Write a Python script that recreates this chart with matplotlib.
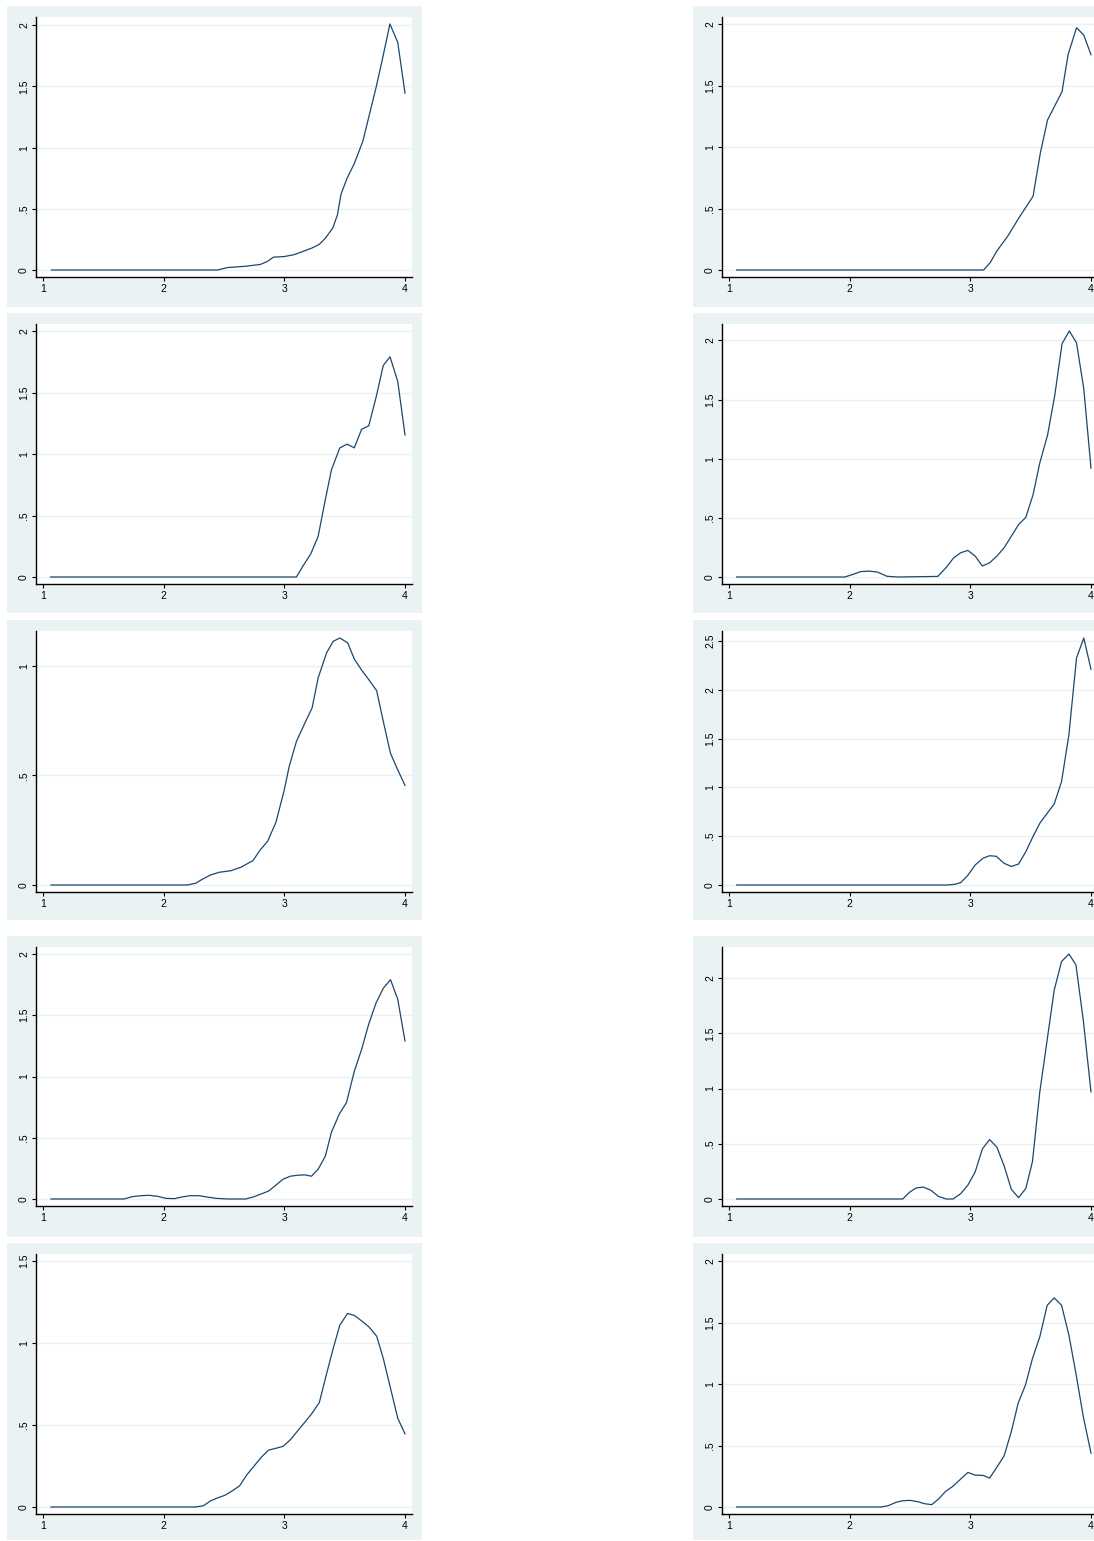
import matplotlib
matplotlib.use('Agg')
import matplotlib.pyplot as plt
from matplotlib.patches import Rectangle

plt.rcParams['font.family'] = ['Liberation Sans', 'DejaVu Sans']

# Datos (10 densidades, 5 filas x 2 columnas)

# fila 1, izquierda
x1 = [1.07, 2.445, 2.53, 2.67, 2.80, 2.86, 2.91, 3.0, 3.08, 3.15, 3.23, 3.29,
      3.34, 3.40, 3.44, 3.47, 3.52, 3.58, 3.65, 3.71, 3.76, 3.81, 3.875, 3.94, 4.0]
y1 = [0, 0, 0.02, 0.03, 0.045, 0.07, 0.105, 0.11, 0.125, 0.15, 0.18, 0.21,
      0.26, 0.34, 0.45, 0.62, 0.75, 0.87, 1.05, 1.29, 1.49, 1.71, 2.01, 1.86, 1.445]

# fila 1, derecha
x2 = [1.064, 3.11, 3.165, 3.22, 3.31, 3.40, 3.52, 3.58, 3.64, 3.76, 3.81, 3.88, 3.94, 4.0]
y2 = [0, 0, 0.06, 0.155, 0.275, 0.42, 0.60, 0.95, 1.22, 1.45, 1.75, 1.97, 1.91, 1.75]

# fila 2, izquierda
x3 = [1.064, 3.10, 3.155, 3.22, 3.28, 3.34, 3.39, 3.46, 3.52, 3.58, 3.64, 3.70,
      3.76, 3.82, 3.876, 3.94, 4.0]
y3 = [0, 0, 0.09, 0.19, 0.33, 0.63, 0.87, 1.05, 1.08, 1.05, 1.20, 1.23,
      1.46, 1.72, 1.79, 1.59, 1.155]

# fila 2, derecha
x4 = [1.064, 1.96, 2.02, 2.09, 2.16, 2.23, 2.31, 2.40, 2.73, 2.80, 2.86, 2.92,
      2.98, 3.04, 3.10, 3.16, 3.22, 3.28, 3.34, 3.40, 3.46, 3.52, 3.575, 3.64,
      3.70, 3.76, 3.82, 3.88, 3.94, 4.0]
y4 = [0, 0, 0.02, 0.045, 0.05, 0.042, 0.006, 0, 0.005, 0.08, 0.16, 0.205,
      0.225, 0.177, 0.093, 0.12, 0.177, 0.247, 0.345, 0.443, 0.505, 0.696, 0.962, 1.20,
      1.537, 1.972, 2.08, 1.98, 1.593, 0.92]

# fila 3, izquierda
x5 = [1.066, 2.196, 2.265, 2.32, 2.39, 2.46, 2.556, 2.64, 2.74, 2.80, 2.86, 2.93,
      3.0, 3.04, 3.10, 3.17, 3.23, 3.28, 3.35, 3.405, 3.46, 3.525, 3.58, 3.64,
      3.70, 3.765, 3.82, 3.88, 3.94, 4.0]
y5 = [0, 0, 0.008, 0.026, 0.046, 0.058, 0.065, 0.081, 0.111, 0.16, 0.198, 0.285,
      0.434, 0.54, 0.654, 0.738, 0.807, 0.944, 1.058, 1.111, 1.126, 1.104, 1.03, 0.98,
      0.936, 0.886, 0.746, 0.60, 0.525, 0.454]

# fila 3, derecha
x6 = [1.064, 2.81, 2.87, 2.92, 2.98, 3.04, 3.105, 3.16, 3.215, 3.28, 3.34, 3.40,
      3.46, 3.515, 3.576, 3.637, 3.695, 3.756, 3.817, 3.88, 3.94, 4.0]
y6 = [0, 0, 0.007, 0.024, 0.10, 0.205, 0.274, 0.30, 0.294, 0.222, 0.19, 0.215,
      0.342, 0.486, 0.633, 0.735, 0.83, 1.06, 1.54, 2.325, 2.53, 2.21]

# fila 4, izquierda
x7 = [1.066, 1.67, 1.74, 1.81, 1.88, 1.95, 2.02, 2.09, 2.15, 2.22, 2.29, 2.36,
      2.44, 2.53, 2.68, 2.75, 2.80, 2.87, 2.93, 2.99, 3.05, 3.11, 3.17, 3.225,
      3.28, 3.34, 3.39, 3.455, 3.515, 3.58, 3.64, 3.70, 3.76, 3.82, 3.88, 3.94, 4.0]
y7 = [0, 0, 0.019, 0.027, 0.03, 0.022, 0.005, 0.003, 0.016, 0.027, 0.027, 0.016,
      0.005, 0, 0, 0.019, 0.038, 0.065, 0.113, 0.162, 0.186, 0.194, 0.197, 0.186,
      0.243, 0.35, 0.544, 0.693, 0.787, 1.043, 1.22, 1.43, 1.60, 1.72, 1.79, 1.63, 1.29]

# fila 4, derecha
x8 = [1.064, 2.44, 2.495, 2.55, 2.61, 2.675, 2.735, 2.80, 2.856, 2.92, 2.98, 3.04,
      3.10, 3.16, 3.22, 3.28, 3.34, 3.40, 3.46, 3.515, 3.575, 3.636, 3.695, 3.756,
      3.817, 3.875, 3.936, 4.0]
y8 = [0, 0, 0.06, 0.10, 0.108, 0.078, 0.024, 0, 0, 0.048, 0.126, 0.245,
      0.454, 0.538, 0.469, 0.30, 0.087, 0.012, 0.096, 0.34, 0.963, 1.435, 1.89, 2.15,
      2.218, 2.12, 1.62, 0.97]

# fila 5, izquierda
x9 = [1.066, 2.265, 2.33, 2.39, 2.445, 2.506, 2.57, 2.63, 2.69, 2.755, 2.81, 2.87,
      2.94, 2.99, 3.05, 3.11, 3.17, 3.23, 3.29, 3.344, 3.405, 3.46, 3.524, 3.58,
      3.64, 3.70, 3.765, 3.82, 3.88, 3.94, 4.0]
y9 = [0, 0, 0.008, 0.038, 0.055, 0.071, 0.099, 0.13, 0.197, 0.255, 0.304, 0.347,
      0.36, 0.37, 0.41, 0.464, 0.517, 0.572, 0.637, 0.795, 0.967, 1.109, 1.18, 1.168,
      1.135, 1.099, 1.042, 0.906, 0.724, 0.541, 0.446]

# fila 5, derecha
x10 = [1.064, 2.26, 2.32, 2.385, 2.44, 2.50, 2.565, 2.62, 2.68, 2.737, 2.795, 2.855,
       2.92, 2.98, 3.04, 3.105, 3.16, 3.22, 3.28, 3.34, 3.396, 3.457, 3.515, 3.576,
       3.637, 3.695, 3.756, 3.817, 3.875, 3.936, 4.0]
y10 = [0, 0, 0.011, 0.038, 0.051, 0.054, 0.043, 0.027, 0.019, 0.065, 0.127, 0.168,
       0.227, 0.281, 0.259, 0.257, 0.235, 0.324, 0.416, 0.614, 0.843, 0.992, 1.208, 1.384,
       1.64, 1.70, 1.64, 1.397, 1.086, 0.735, 0.438]

# Etiquetas de los ejes
xticks = [1, 2, 3, 4]
xlabels = ['1', '2', '3', '4']
yticks_2 = [0, 0.5, 1, 1.5, 2]
ylabels_2 = ['0', '.5', '1', '1.5', '2']
yticks_1 = [0, 0.5, 1]
ylabels_1 = ['0', '.5', '1']
yticks_15 = [0, 0.5, 1, 1.5]
ylabels_15 = ['0', '.5', '1', '1.5']
yticks_25 = [0, 0.5, 1, 1.5, 2, 2.5]
ylabels_25 = ['0', '.5', '1', '1.5', '2', '2.5']

paneles = [
    (x1, y1, yticks_2, ylabels_2), (x2, y2, yticks_2, ylabels_2),
    (x3, y3, yticks_2, ylabels_2), (x4, y4, yticks_2, ylabels_2),
    (x5, y5, yticks_1, ylabels_1), (x6, y6, yticks_25, ylabels_25),
    (x7, y7, yticks_2, ylabels_2), (x8, y8, yticks_2, ylabels_2),
    (x9, y9, yticks_15, ylabels_15), (x10, y10, yticks_2, ylabels_2),
]

# Posiciones en pixeles (estilo Stata s2color)
W, H = 1094, 1541
fondo = '#EAF2F3'
linea = '#1a476f'
filas_fondo = [(6, 307), (313, 613), (620, 920), (936, 1237), (1243, 1540)]
filas_plot = [(17, 277), (324, 584), (631, 892), (947, 1206), (1254, 1514)]
cols_fondo = [7, 693]
ancho_fondo = 415
ancho_plot = 376

fig = plt.figure(figsize=(W / 100, H / 100), dpi=100)
fig.patch.set_facecolor('white')

for i, (x, y, yt, yl) in enumerate(paneles):
    fila, col = divmod(i, 2)
    g0, g1 = filas_fondo[fila]
    gx = cols_fondo[col]
    fig.add_artist(Rectangle((gx / W, 1 - g1 / H), ancho_fondo / W, (g1 - g0) / H,
                             transform=fig.transFigure, facecolor=fondo,
                             edgecolor='none', zorder=-1))

    p0, p1 = filas_plot[fila]
    alto = p1 - p0
    ax = fig.add_axes([(gx + 29) / W, 1 - p1 / H, ancho_plot / W, alto / H])
    ax.set_facecolor('white')
    ax.plot(x, y, color=linea, lw=0.9)

    # limites con margen fijo de ~7 px
    xpad = 3 * 7 / (ancho_plot - 14)
    ax.set_xlim(1 - xpad, 4 + xpad)
    hi = max(yt[-1], max(y))
    ypad = hi * 7 / (alto - 14)
    ax.set_ylim(-ypad, hi + ypad)

    ax.set_xticks(xticks)
    ax.set_xticklabels(xlabels)
    ax.set_yticks(yt)
    ax.set_yticklabels(yl, rotation=90, va='center')

    ax.yaxis.grid(True, color=fondo, lw=1.0)
    ax.set_axisbelow(True)
    for s in ['top', 'right']:
        ax.spines[s].set_visible(False)
    for s in ['left', 'bottom']:
        ax.spines[s].set_linewidth(1.0)
        ax.spines[s].set_color('black')
    ax.tick_params(direction='out', length=3, width=0.8, labelsize=7.5,
                   pad=2, colors='black')

plt.savefig('out.png', dpi=100, facecolor='white')
